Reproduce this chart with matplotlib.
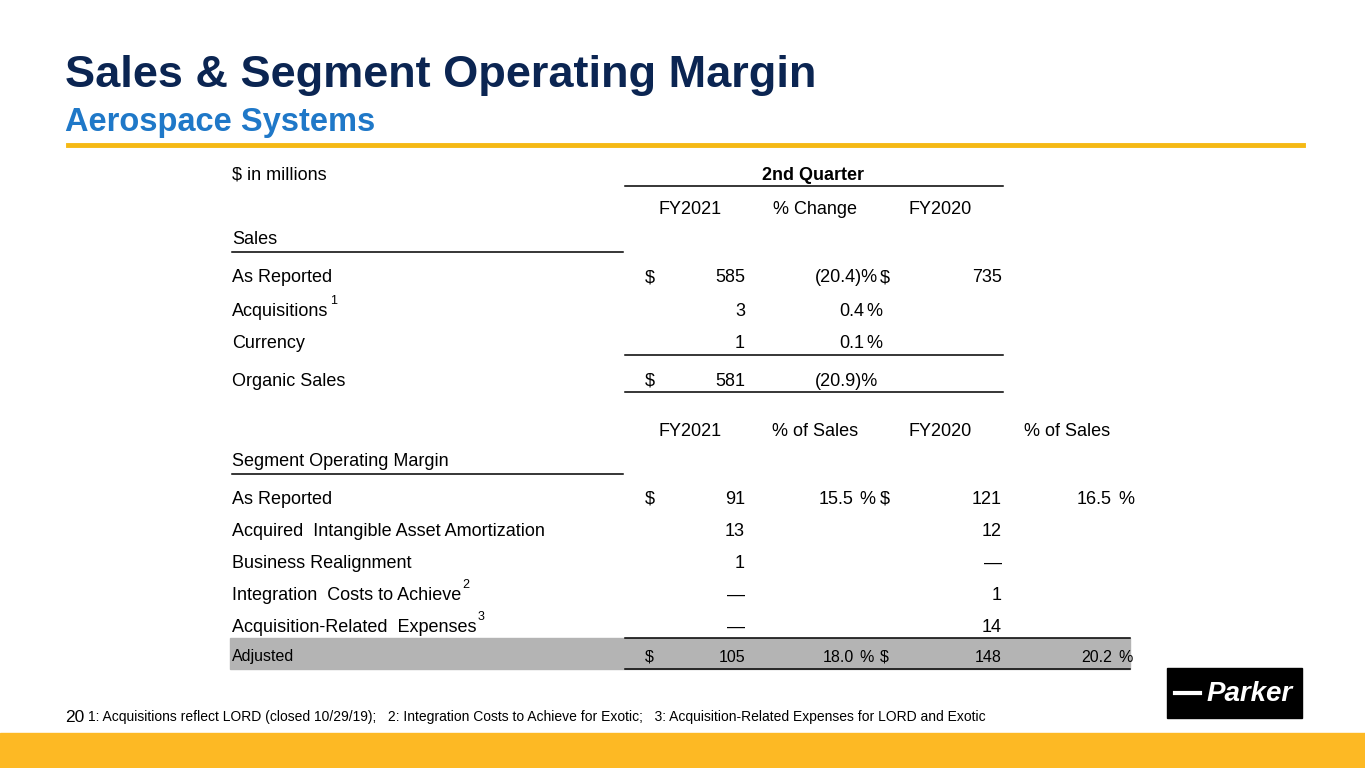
import matplotlib.pyplot as plt
from matplotlib.patches import Rectangle

plt.rcParams['font.family'] = ['Liberation Sans', 'DejaVu Sans']

navy = '#0b2552'
blue = '#1f78c8'
gold = '#fdb924'

sales_rows = ['As Reported', 'Acquisitions', 'Currency', 'Organic Sales']
sales_sup = ['', '1', '', '']
sales_fy21 = ['585', '3', '1', '581']
sales_chg = ['(20.4)%', '0.4', '0.1', '(20.9)%']
sales_fy20 = ['735', '', '', '']
sales_dollar = [True, False, False, True]

som_rows = ['As Reported', 'Acquired  Intangible Asset Amortization', 'Business Realignment',
            'Integration  Costs to Achieve', 'Acquisition-Related  Expenses', 'Adjusted']
som_sup = ['', '', '', '2', '3', '']
som_fy21 = ['91', '13', '1', '\u2014', '\u2014', '105']
som_pct21 = ['15.5', '', '', '', '', '18.0']
som_fy20 = ['121', '12', '\u2014', '1', '14', '148']
som_pct20 = ['16.5', '', '', '', '', '20.2']

fig = plt.figure(figsize=(13.65, 7.68), dpi=100)
ax = fig.add_axes([0, 0, 1, 1])
ax.set_xlim(0, 1365)
ax.set_ylim(768, 0)
ax.axis('off')

ax.text(65, 75, 'Sales & Segment Operating Margin', fontsize=32.5, fontweight='bold', color=navy, va='center')
ax.text(65, 122, 'Aerospace Systems', fontsize=23.5, fontweight='bold', color=blue, va='center')
ax.plot([68, 1303], [145, 145], color='#f5b914', lw=3.5)
ax.add_patch(Rectangle((0, 733), 1365, 35, color=gold))

fs = 13
def t(x, y, s, ha='left', **kw):
    return ax.text(x, y, s, fontsize=kw.pop('size', fs), ha=ha, va='center', **kw)

def sup(artist, s):
    ax.annotate(s, xy=(1, 0.75), xycoords=artist, xytext=(1, 0), textcoords='offset points',
                fontsize=9, va='bottom', ha='left')

def hline(x0, x1, y):
    ax.plot([x0, x1], [y, y], color='black', lw=1.1)

t(232, 175, '$ in millions')
t(813, 175, '2nd Quarter', ha='center', fontweight='bold')
hline(625, 1003, 186)
for x, s in [(690, 'FY2021'), (815, '% Change'), (940, 'FY2020')]:
    t(x, 209, s, ha='center')
t(232, 240, 'Sales')
hline(232, 623, 252)

ys = [278, 311, 343, 381]
for i, y in enumerate(ys):
    a = t(232, y, sales_rows[i])
    if sales_sup[i]:
        sup(a, sales_sup[i])
    if sales_dollar[i]:
        t(645, y, '$')
    t(745, y, sales_fy21[i], ha='right')
    if sales_chg[i].endswith('%'):
        t(878, y, sales_chg[i], ha='right')
    else:
        t(864, y, sales_chg[i], ha='right')
        t(866, y, '%')
    if sales_fy20[i]:
        t(880, y, '$')
        t(1002, y, sales_fy20[i], ha='right')
hline(625, 1003, 355)
hline(625, 1003, 392)

for x, s in [(690, 'FY2021'), (815, '% of Sales'), (940, 'FY2020'), (1067, '% of Sales')]:
    t(x, 431, s, ha='center')
t(232, 461, 'Segment Operating Margin')
hline(232, 623, 474)

ax.add_patch(Rectangle((230, 638), 900, 31, color='#b4b4b4', zorder=0))
ys = [499, 531, 563, 595, 627, 657]
for i, y in enumerate(ys):
    size = 11.5 if i == 5 else fs
    a = t(232, y, som_rows[i], size=size)
    if som_sup[i]:
        sup(a, som_sup[i])
    if som_pct21[i]:
        t(645, y, '$', size=size)
        t(880, y, '$', size=size)
        t(854, y, som_pct21[i], ha='right', size=size)
        t(859, y, '%', size=size)
        t(1112, y, som_pct20[i], ha='right', size=size)
        t(1118, y, '%', size=size)
    t(745, y, som_fy21[i], ha='right', size=size)
    t(1002, y, som_fy20[i], ha='right', size=size)
hline(625, 1130, 638)
hline(625, 1130, 669)

t(65, 717, '20', size=12.5)
t(88, 717, '1: Acquisitions reflect LORD (closed 10/29/19);   2: Integration Costs to Achieve for Exotic;   '
           '3: Acquisition-Related Expenses for LORD and Exotic', size=10)

ax.add_patch(Rectangle((1167, 668), 135, 50, color='black'))
ax.plot([1175, 1200], [693, 693], color='white', lw=3)
ax.text(1250, 694, 'Parker', fontsize=20, fontweight='bold', fontstyle='italic',
        color='white', ha='center', va='center')

fig.savefig('out.png', dpi=100)
